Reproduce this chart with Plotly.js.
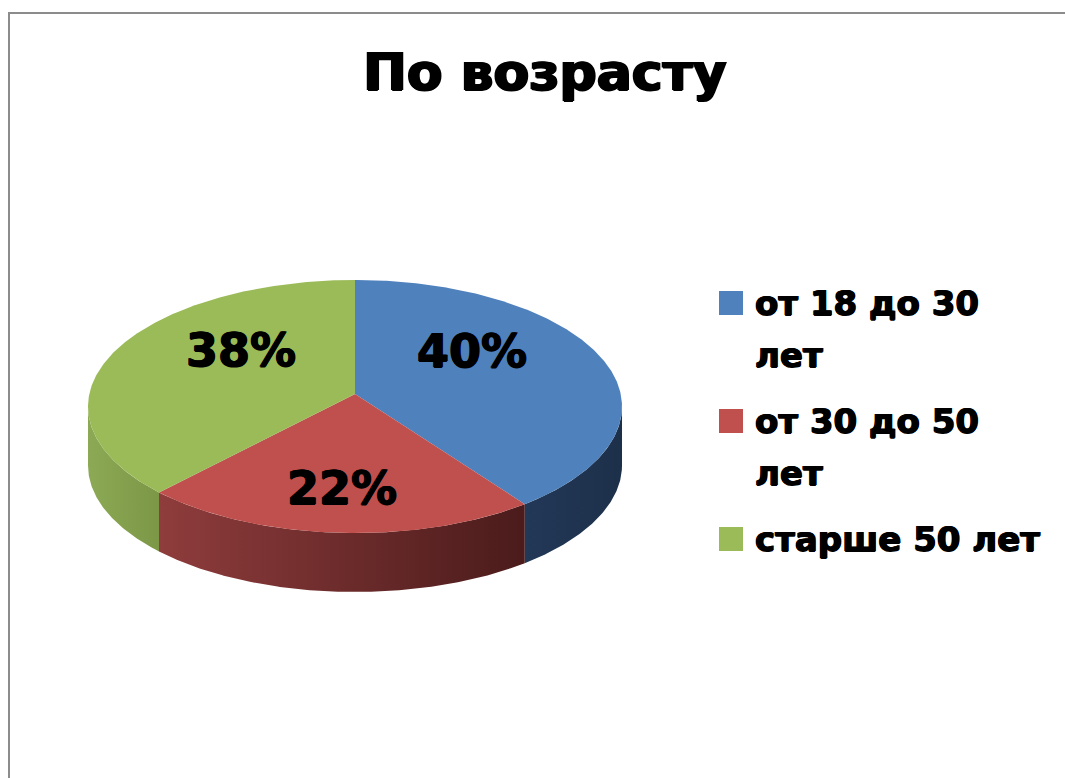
<!DOCTYPE html>
<html>
<head>
<meta charset="utf-8">
<script src="https://cdn.plot.ly/plotly-3.0.1.min.js"></script>
<style>html,body{margin:0;padding:0;background:#fff;}#chart{width:1065px;height:778px;}</style>
</head>
<body>
<div id="chart"></div>
<script>
// ---- data ----
const chartTitle = 'По возрасту';
const categories = ['от 18 до 30 лет', 'от 30 до 50 лет', 'старше 50 лет'];
const values = [40, 22, 38];

// ---- styles ----
const topColors = ['#4F81BD', '#C0504D', '#9BBB59'];
const sideColors = [['#223857', '#1D304A'], ['#8F3C3C', '#4B1B1B'], ['#8CA955', '#7C9847']];
const labelShift = [[0, -25], [-5, 32], [0, -23]];
const heavy = '0.7px 0 0 #000, -0.7px 0 0 #000, 0 0.5px 0 #000';

// ---- geometry (pixel space) ----
const W = 1065, H = 778;
const CX = 355, CY = 394, RX = 265.7, RY = 125.3, K = 0.0988, DEPTH = 59;
function proj(t, r) {
  const u = r * Math.sin(t), v = -r * Math.cos(t), w = 1 - K * v;
  return [CX + RX * u / w, CY + RY * v / w];
}
function arc(a, b, r, dy) {
  const n = Math.max(2, Math.ceil((b - a) / (Math.PI / 360)));
  const xs = [], ys = [];
  for (let i = 0; i <= n; i++) {
    const p = proj(a + (b - a) * i / n, r);
    xs.push(p[0]); ys.push(p[1] + (dy || 0));
  }
  return [xs, ys];
}

const total = values.reduce((s, v) => s + v, 0);
const s1 = Math.acos(-K), s2 = 2 * Math.PI - Math.acos(-K);
const sides = [], tops = [], annotations = [], shapes = [];
let acc = 0;
values.forEach((v, i) => {
  const a = acc / total * 2 * Math.PI;
  acc += v;
  const b = acc / total * 2 * Math.PI;
  // side
  const lo = Math.max(a, s1), hi = Math.min(b, s2);
  if (hi > lo) {
    const t = arc(lo, hi, 1, 0), bt = arc(lo, hi, 1, DEPTH);
    sides.push({
      type: 'scatter', mode: 'lines', hoverinfo: 'skip', showlegend: false,
      x: t[0].concat(bt[0].slice().reverse()), y: t[1].concat(bt[1].slice().reverse()),
      fill: 'toself', line: {width: 0, color: sideColors[i][1]},
      fillcolor: sideColors[i][1],
      fillgradient: {type: 'horizontal', colorscale: [[0, sideColors[i][0]], [1, sideColors[i][1]]]}
    });
  }
  // top
  const t = arc(a, b, 1, 0);
  const c = proj(0, 0);
  tops.push({
    type: 'scatter', mode: 'lines', name: categories[i], showlegend: false,
    x: [c[0]].concat(t[0], [c[0]]), y: [c[1]].concat(t[1], [c[1]]),
    fill: 'toself', fillcolor: topColors[i], line: {width: 0, color: topColors[i]},
    hoveron: 'fills', hoverinfo: 'name'
  });
  // value label
  const m = (a + b) / 2;
  const p = proj(m, 0.47);
  annotations.push({
    x: p[0] + labelShift[i][0], y: p[1] + labelShift[i][1], xref: 'x', yref: 'y', showarrow: false,
    xanchor: 'center', yanchor: 'middle',
    text: '<b>' + Math.round(v / total * 100) + '%</b>',
    font: {family: 'DejaVu Sans', size: 46, color: '#000', shadow: heavy}
  });
});

// ---- legend (wrapped at 13 characters) ----
function wrap(s, max) {
  const words = s.split(' '), lines = [];
  let cur = '';
  words.forEach(w => {
    const next = cur ? cur + ' ' + w : w;
    if (next.length > max && cur) { lines.push(cur); cur = w; } else cur = next;
  });
  lines.push(cur);
  return lines;
}
let ly = 303;
categories.forEach((cat, i) => {
  shapes.push({type: 'rect', xref: 'x', yref: 'y', x0: 719, x1: 743, y0: ly - 12, y1: ly + 12,
    fillcolor: topColors[i], line: {width: 0}});
  const lines = wrap(cat, 13);
  lines.forEach((ln, j) => {
    annotations.push({
      x: 753, y: ly + j * 52, xref: 'x', yref: 'y', showarrow: false,
      xanchor: 'left', yanchor: 'middle', text: '<b>' + ln + '</b>',
      font: {family: 'DejaVu Sans', size: 34, color: '#000', shadow: heavy}
    });
  });
  ly += (lines.length - 1) * 52 + 66;
});

// frame
shapes.push({type: 'path', xref: 'x', yref: 'y', path: 'M9,' + H + ' L9,13 L' + W + ',13',
  line: {color: '#8C8C8C', width: 2}});

const layout = {
  width: W, height: H,
  margin: {l: 0, r: 0, t: 0, b: 0},
  paper_bgcolor: '#fff', plot_bgcolor: '#fff',
  title: {text: '<b>' + chartTitle + '</b>', x: 545 / W, xanchor: 'center', xref: 'container',
    y: 1 - 72 / H, yanchor: 'middle', yref: 'container',
    font: {family: 'DejaVu Sans', size: 52, color: '#000', shadow: '1.2px 0 0 #000, -1.2px 0 0 #000, 0 0.8px 0 #000'}},
  xaxis: {range: [0, W], visible: false, fixedrange: true},
  yaxis: {range: [H, 0], visible: false, fixedrange: true},
  showlegend: false,
  annotations: annotations,
  shapes: shapes
};
Plotly.newPlot('chart', sides.concat(tops), layout, {displayModeBar: false, staticPlot: true});
</script>
</body>
</html>
